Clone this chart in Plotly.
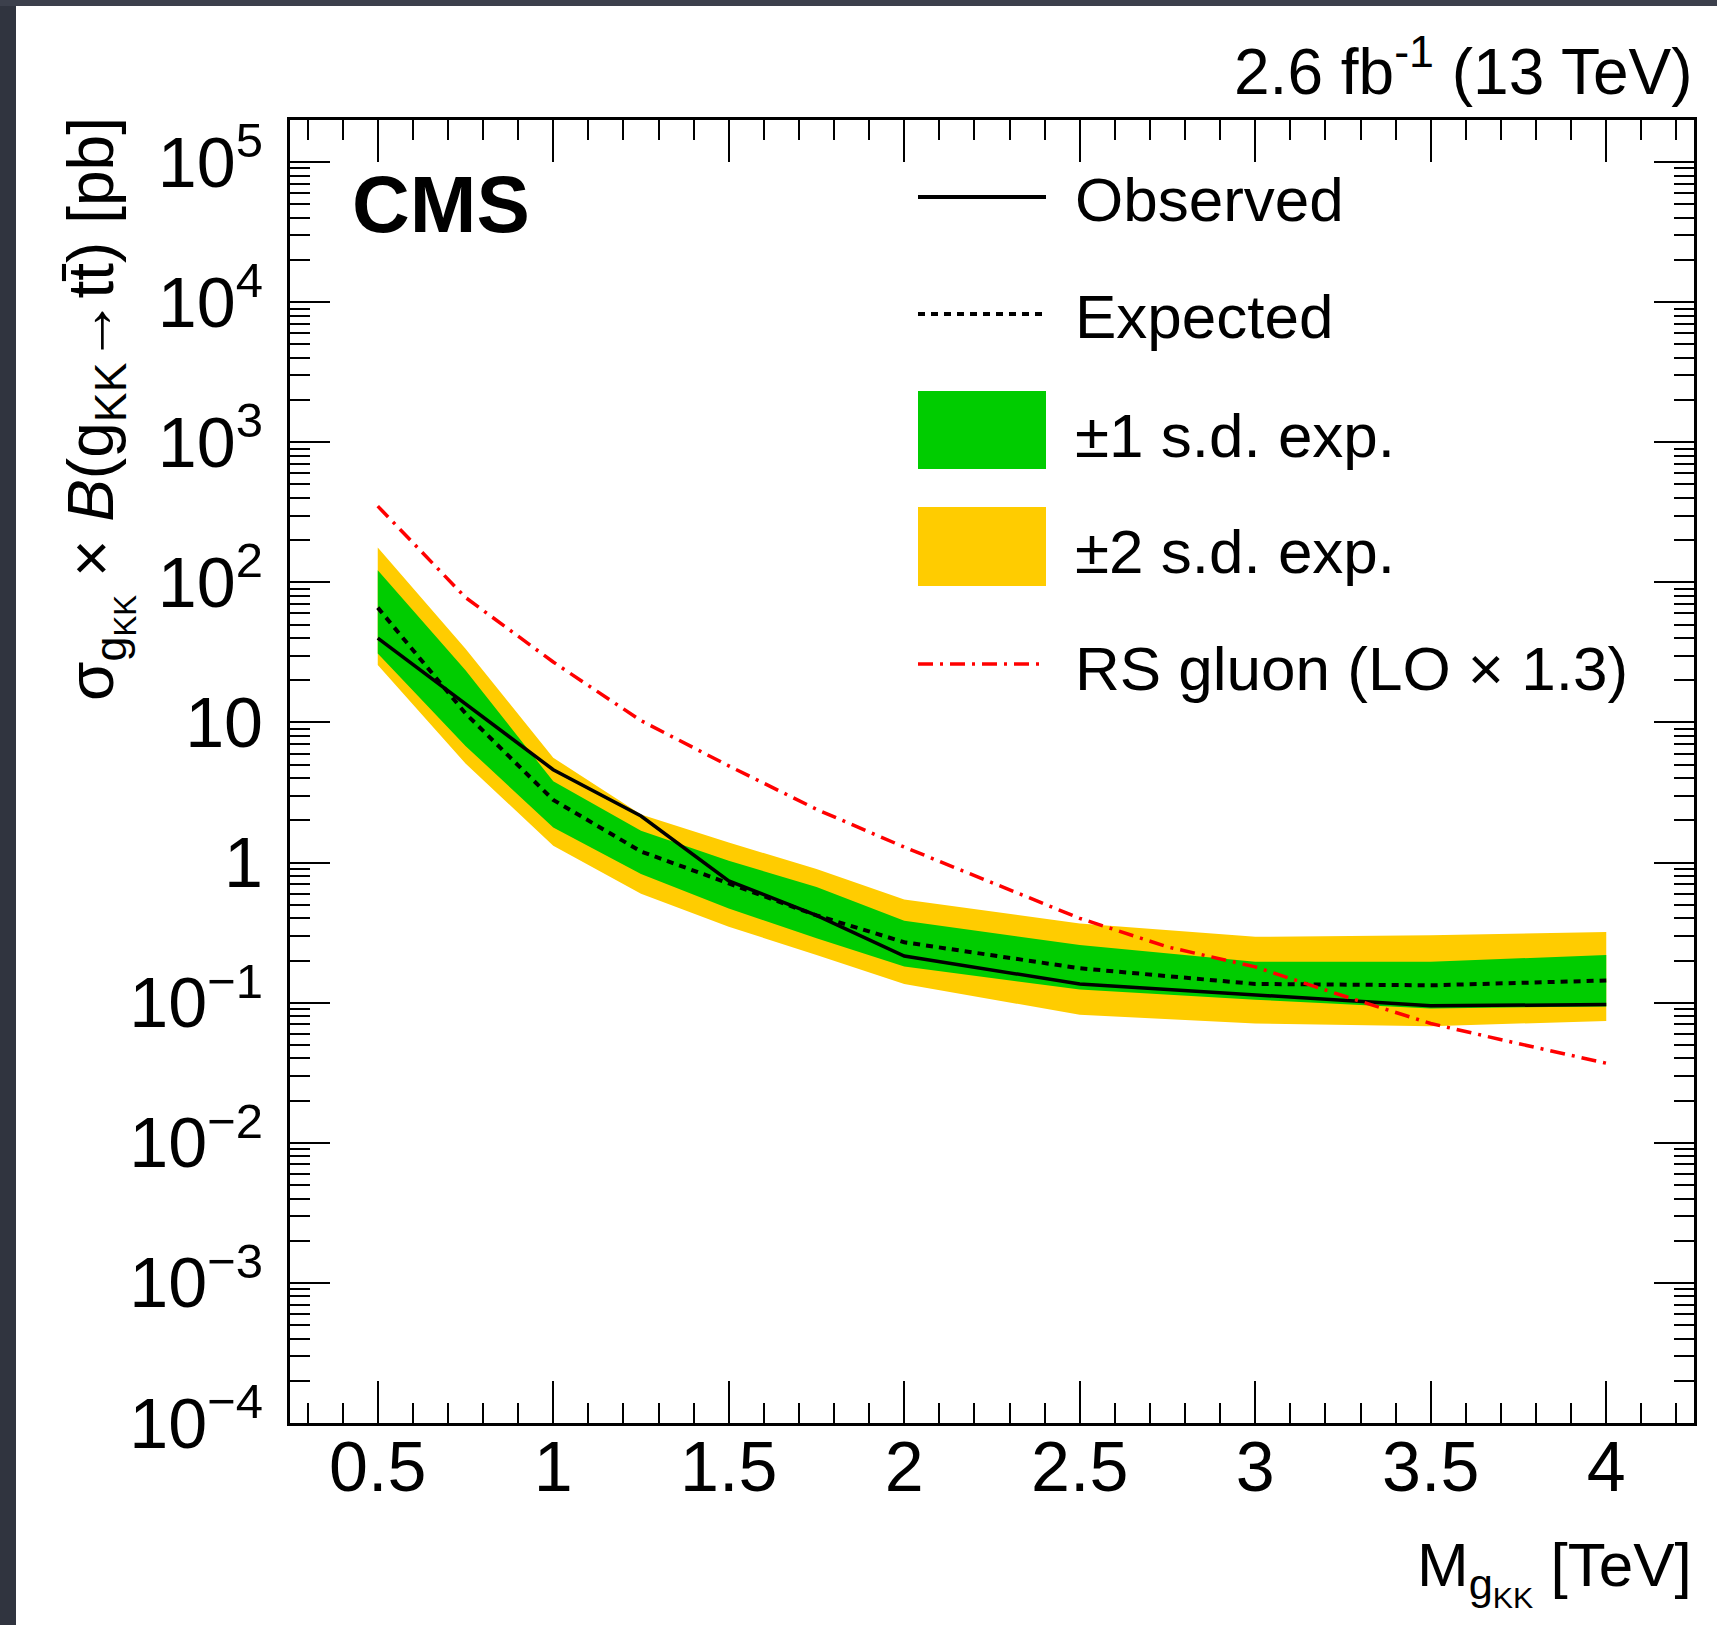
import plotly.graph_objects as go

# ---------------- data ----------------
mass = [0.5, 0.75, 1.0, 1.25, 1.5, 1.75, 2.0, 2.5, 3.0, 3.5, 4.0]
observed = [40, 13.5, 4.6, 2.15, 0.74, 0.42, 0.215, 0.136, 0.114, 0.095, 0.097]
expected = [66, 11.6, 2.8, 1.2, 0.71, 0.42, 0.27, 0.176, 0.136, 0.133, 0.144]
sd1_lo = [31, 6.8, 1.78, 0.83, 0.47, 0.288, 0.181, 0.124, 0.105, 0.091, 0.094]
sd1_hi = [122, 23.6, 3.8, 1.69, 1.03, 0.668, 0.385, 0.258, 0.196, 0.196, 0.219]
sd2_lo = [25.7, 5.1, 1.32, 0.60, 0.348, 0.219, 0.136, 0.082, 0.071, 0.068, 0.074]
sd2_hi = [177, 33.6, 5.6, 2.2, 1.39, 0.90, 0.545, 0.367, 0.295, 0.303, 0.319]

mass_rs = [0.5, 0.75, 1.0, 1.25, 1.5, 1.75, 2.0, 2.25, 2.5, 2.75, 3.0, 3.25, 3.5, 3.75, 4.0]
rs_gluon = [350, 78, 27, 10.3, 4.9, 2.4, 1.29, 0.72, 0.40, 0.25, 0.18, 0.112, 0.071, 0.051, 0.037]

x_tickvals = [0.5, 1, 1.5, 2, 2.5, 3, 3.5, 4]
x_ticktext = ["0.5", "1", "1.5", "2", "2.5", "3", "3.5", "4"]
y_tickvals = [1e-4, 1e-3, 1e-2, 1e-1, 1, 10, 1e2, 1e3, 1e4, 1e5]
y_ticktext = ["10<sup>\u22124</sup>", "10<sup>\u22123</sup>", "10<sup>\u22122</sup>",
              "10<sup>\u22121</sup>", "1", "10", "10<sup>2</sup>", "10<sup>3</sup>",
              "10<sup>4</sup>", "10<sup>5</sup>"]

legend_labels = ["Observed", "Expected", "\u00b11 s.d. exp.", "\u00b12 s.d. exp.",
                 "RS gluon (LO \u00d7 1.3)"]

# ---------------- styling ----------------
FONT = "Liberation Sans, Arial, Helvetica, sans-serif"
GREEN = "#00cc00"
YELLOW = "#ffcc00"
RED = "#ff0000"
W, H = 1717, 1625
L, R, T, B = 290, 1694, 120, 1423  # plot frame in pixels


def px(x):
    return (x - L) / (R - L)


def py(y):
    return (B - y) / (B - T)


fig = go.Figure()

# bands
fig.add_trace(go.Scatter(x=mass + mass[::-1], y=sd2_hi + sd2_lo[::-1], fill="toself",
                         fillcolor=YELLOW, line=dict(width=0, color=YELLOW), mode="lines",
                         hoverinfo="skip", showlegend=False))
fig.add_trace(go.Scatter(x=mass + mass[::-1], y=sd1_hi + sd1_lo[::-1], fill="toself",
                         fillcolor=GREEN, line=dict(width=0, color=GREEN), mode="lines",
                         hoverinfo="skip", showlegend=False))
# expected
fig.add_trace(go.Scatter(x=mass, y=expected, mode="lines",
                         line=dict(color="black", width=4, dash="7px,6px"), showlegend=False))
# observed
fig.add_trace(go.Scatter(x=mass, y=observed, mode="lines",
                         line=dict(color="black", width=3.5), showlegend=False))
# RS gluon
fig.add_trace(go.Scatter(x=mass_rs, y=rs_gluon, mode="lines",
                         line=dict(color=RED, width=3.5, dash="15px,7px,3px,7px"), showlegend=False))

x_minor = [round(0.3 + 0.1 * i, 2) for i in range(40)]
x_minor = [v for v in x_minor if v <= 4.2 and abs(v * 2 - round(v * 2)) > 1e-6]
y_minor = [m * 10 ** k for k in range(-4, 6) for m in range(2, 10)]

fig.update_xaxes(range=[0.25, 4.25], tickmode="array", tickvals=x_tickvals, ticktext=x_ticktext,
                 ticks="inside", ticklen=42, tickwidth=2, tickcolor="black",
                 minor=dict(tickmode="array", tickvals=x_minor, ticks="inside", ticklen=20,
                            tickwidth=2, tickcolor="black", showgrid=False),
                 showline=True, linewidth=3, linecolor="black", mirror="ticks",
                 showgrid=False, zeroline=False, ticklabelstandoff=-19,
                 tickfont=dict(family=FONT, size=70, color="black"))
fig.update_yaxes(type="log", range=[-4, 5.3], tickmode="array", tickvals=y_tickvals,
                 ticktext=y_ticktext, ticks="inside", ticklen=40, tickwidth=2, tickcolor="black",
                 minor=dict(tickmode="array", tickvals=y_minor, ticks="inside", ticklen=20,
                            tickwidth=2, tickcolor="black", showgrid=False),
                 showline=True, linewidth=3, linecolor="black", mirror="ticks",
                 showgrid=False, zeroline=False, ticklabelstandoff=10,
                 tickfont=dict(family=FONT, size=70, color="black"))

shapes = []
# dark frame around the page (left and top)
shapes.append(dict(type="rect", xref="paper", yref="paper", x0=px(-10), x1=px(16), y0=py(H + 20), y1=py(-10),
                   fillcolor="#30343f", line=dict(width=0), layer="above"))
shapes.append(dict(type="rect", xref="paper", yref="paper", x0=px(-10), x1=px(W + 10), y0=py(6), y1=py(-10),
                   fillcolor="#3c404c", line=dict(width=0), layer="above"))

# legend symbols
LX0, LX1 = 918, 1046
shapes.append(dict(type="line", xref="paper", yref="paper", x0=px(LX0), x1=px(LX1), y0=py(197), y1=py(197),
                   line=dict(color="black", width=4)))
shapes.append(dict(type="line", xref="paper", yref="paper", x0=px(LX0), x1=px(LX1), y0=py(314), y1=py(314),
                   line=dict(color="black", width=4, dash="7px,6px")))
shapes.append(dict(type="rect", xref="paper", yref="paper", x0=px(LX0), x1=px(LX1), y0=py(469), y1=py(391),
                   fillcolor=GREEN, line=dict(width=0)))
shapes.append(dict(type="rect", xref="paper", yref="paper", x0=px(LX0), x1=px(LX1), y0=py(586), y1=py(507),
                   fillcolor=YELLOW, line=dict(width=0)))
shapes.append(dict(type="line", xref="paper", yref="paper", x0=px(LX0), x1=px(LX1), y0=py(664), y1=py(664),
                   line=dict(color=RED, width=3.5, dash="15px,7px,3px,7px")))

annotations = []
for label, yc in zip(legend_labels, [199, 316, 435, 551, 668]):
    annotations.append(dict(text=label, xref="paper", yref="paper", x=px(1073), y=py(yc),
                            xanchor="left", yanchor="middle", showarrow=False,
                            font=dict(family=FONT, size=62, color="black")))

annotations.append(dict(text="<b>CMS</b>", xref="paper", yref="paper", x=px(350), y=py(205),
                        xanchor="left", yanchor="middle", showarrow=False,
                        font=dict(family=FONT, size=80, color="black")))
annotations.append(dict(text="2.6 fb<sup>-1</sup> (13 TeV)", xref="paper", yref="paper", x=px(1694),
                        y=py(67), xanchor="right", yanchor="middle", showarrow=False,
                        font=dict(family=FONT, size=64, color="black")))
annotations.append(dict(text="M<sub>g<sub>KK</sub></sub> [TeV]", xref="paper", yref="paper", x=px(1694),
                        y=py(1528), xanchor="right", yanchor="top", showarrow=False,
                        font=dict(family=FONT, size=62, color="black")))
annotations.append(dict(text="\u03c3<sub>g<sub>KK</sub></sub> \u00d7 <i>B</i>(g<sub>KK</sub>\u2192tt\u0304) [pb]",
                        xref="paper", yref="paper", x=px(99), y=py(115), textangle=-90,
                        xanchor="center", yanchor="top", showarrow=False,
                        font=dict(family=FONT, size=64, color="black")))

fig.update_layout(width=W, height=H, autosize=False,
                  margin=dict(l=L, r=W - R, t=T, b=H - B, pad=0),
                  paper_bgcolor="white", plot_bgcolor="white",
                  shapes=shapes, annotations=annotations, showlegend=False)

fig.write_html("out.html", config={"displayModeBar": False},
               post_script="document.body.style.margin='0px';")
